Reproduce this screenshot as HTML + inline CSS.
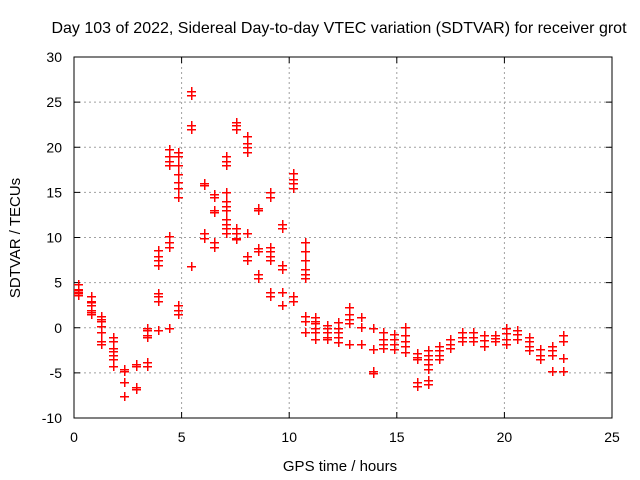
<!DOCTYPE html>
<html><head><meta charset="utf-8"><style>
body{margin:0;background:#fff;}
svg{display:block;font-family:"Liberation Sans",sans-serif;}
</style></head><body>
<svg id="chart" width="640" height="480">
<rect width="640" height="480" fill="#fff"/>
<text x="339" y="33" font-size="16" text-anchor="middle">Day 103 of 2022, Sidereal Day-to-day VTEC variation (SDTVAR) for receiver grot</text>
<g id="grid"></g>
<g id="axes"></g>
<g id="points"></g>
<text x="340" y="471" font-size="15" text-anchor="middle">GPS time / hours</text>
<text transform="translate(20,238) rotate(-90)" font-size="15" text-anchor="middle">SDTVAR / TECUs</text>
</svg>
<script>
const xTicks=[0,5,10,15,20,25];
const yTicks=[-10,-5,0,5,10,15,20,25,30];
const hours=[0.19,0.79,1.25,1.81,2.32,2.88,3.39,3.9,4.41,4.83,5.44,6.04,6.5,7.06,7.53,8.04,8.55,9.11,9.67,10.18,10.73,
11.2,11.76,12.27,12.78,13.34,13.9,14.36,14.87,15.38,15.94,16.45,16.96,17.47,18.03,18.54,19.05,19.56,20.07,20.58,21.14,21.65,22.21,22.72];
const values=[
[4.8,4.3,4.0,3.8,4.2,3.6],
[3.5,2.8,2.0,1.5,2.5,1.8,3.0],
[1.3,0.8,0.2,-0.5,-1.5,-1.8,1.0],
[-1,-1.5,-2.2,-3,-3.5,-4.2,-2.6],
[-4.6,-4.8,-6,-7.6],
[-4,-4.2,-6.6,-6.8],
[-3.8,-4.2,-0.2,-0.8,-1,0],
[3,3.5,3.8,7,7.5,8,8.6,-0.2],
[9,9.5,10.2,18,19,19.8,0,18.5],
[1.5,2,2.5,14.5,15.5,17,18,19,19.5,16.2],
[6.8,22,22.5,25.8,26.2],
[10,10.5,15.8,16],
[9,9.5,12.8,13,14.5,14.8],
[11,11.5,12,13,14,15,18,18.5,19,10.5,13.5],
[10,10.5,11,22,22.5,22.8,9.8],
[7.5,8,10.5,19.5,20.5,21.3,20],
[5.5,6,8.5,8.8,13,13.3],
[3.5,4,7.5,8.5,9,15,14.5,8],
[2.5,4,6.5,7,11,11.5],
[3,3.5,15.5,16.5,17.2,16],
[-0.5,0.8,1.3,5.5,6.5,7.5,8.5,9.5,6],
[1.2,0.5,0,-0.5,-1.3,0.8],
[0.3,-0.5,-1,-1.3,0],
[0.6,0,-0.5,-1,-1.6],
[2.3,1.5,0.5,-1.8,1.0],
[1.2,0.1,-1.8],
[0,-2.3,-5,-4.8],
[-0.5,-1.2,-1.8,-2.2],
[-0.7,-1.2,-1.8,-2.3],
[0.1,-0.8,-1.5,-2,-2.7],
[-2.8,-3.2,-3.5,-6.5,-6],
[-2.5,-3,-3.5,-4,-5.8,-6.2,-4.6],
[-2,-2.5,-3,-3.5],
[-1.3,-1.8,-2.2],
[-0.5,-1,-1.5],
[-0.5,-1,-1.5],
[-0.8,-1.4,-2.0],
[-0.8,-1.1,-1.5],
[0,-0.6,-1.2,-1.8],
[-0.2,-0.7,-1.3],
[-1,-1.5,-2,-2.5],
[-2.3,-3,-3.5],
[-2.0,-3,-4.8,-2.5],
[-0.8,-1.5,-3.3,-4.8]];
const X0=74,X1=612,Y0=418,Y1=57;
function sx(h){return X0+(h-0)/(25-0)*(X1-X0);}
function sy(v){return Y0-(v+10)/(30+10)*(Y0-Y1);}
const NS="http://www.w3.org/2000/svg";
function mk(t,p,a){const e=document.createElementNS(NS,t);for(const k in a)e.setAttribute(k,a[k]);p.appendChild(e);return e;}
const grid=document.getElementById('grid'),axes=document.getElementById('axes'),pts=document.getElementById('points');
xTicks.forEach(t=>{const x=sx(t);
 if(t>0&&t<25){const l=mk('line',grid,{x1:x,x2:x,y1:Y1,y2:Y0,stroke:'#a0a0a0','stroke-dasharray':'2,3'});
 }
 mk('line',axes,{x1:x,x2:x,y1:Y0,y2:Y0-6,stroke:'#000'});mk('line',axes,{x1:x,x2:x,y1:Y1,y2:Y1+6,stroke:'#000'});
 const tx=mk('text',axes,{x:x,y:Y0+24,'font-size':14,'text-anchor':'middle'});tx.textContent=t;
 });
yTicks.forEach(t=>{const y=sy(t);
 if(t>-10&&t<30){const l=mk('line',grid,{x1:X0,x2:X1,y1:y,y2:y,stroke:'#a0a0a0','stroke-dasharray':'2,3'});
 }
 mk('line',axes,{x1:X0,x2:X0+6,y1:y,y2:y,stroke:'#000'});mk('line',axes,{x1:X1,x2:X1-6,y1:y,y2:y,stroke:'#000'});
 const tx=mk('text',axes,{x:X0-12,y:y+5,'font-size':14,'text-anchor':'end'});tx.textContent=t;
 });
mk('rect',axes,{x:X0,y:Y1,width:X1-X0,height:Y0-Y1,fill:'none',stroke:'#000'});
hours.forEach((h,i)=>{values[i].forEach(v=>{const x=Math.round(sx(h))+0.5,y=Math.round(sy(v))+0.5;
 const p=mk('path',pts,{d:`M${x-4.5},${y}h9M${x},${y-4.5}v9`,stroke:'#f00','stroke-width':1.5,fill:'none','shape-rendering':'crispEdges'});
 });});
</script>
</body></html>
